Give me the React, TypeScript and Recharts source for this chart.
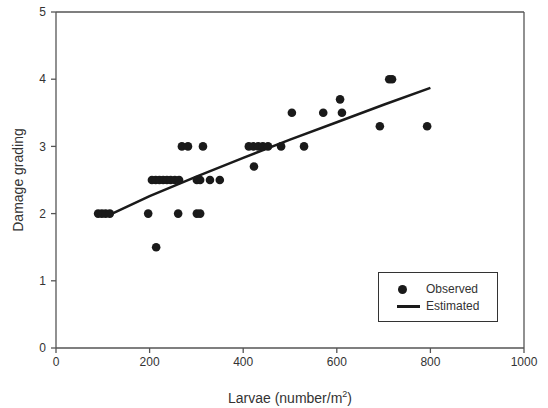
import React from 'react';
import { ScatterChart, Scatter, XAxis, YAxis, ReferenceLine, Label } from 'recharts';

// Observed points
const obsLarvae = [
  90, 98, 106, 115, 197, 261, 301, 308,
  214,
  205, 213, 221, 229, 237, 245, 254, 263, 301, 308, 329, 350,
  423,
  269, 282, 314, 412, 422, 432, 442, 453, 481, 530,
  504, 571, 611,
  607,
  692, 793,
  712, 718,
];
const obsDamage = [
  2, 2, 2, 2, 2, 2, 2, 2,
  1.5,
  2.5, 2.5, 2.5, 2.5, 2.5, 2.5, 2.5, 2.5, 2.5, 2.5, 2.5, 2.5,
  2.7,
  3, 3, 3, 3, 3, 3, 3, 3, 3, 3,
  3.5, 3.5, 3.5,
  3.7,
  3.3, 3.3,
  4, 4,
];

// Estimated curve
const estLarvae = [120, 200, 300, 400, 500, 600, 700, 800];
const estDamage = [2.0, 2.26, 2.55, 2.83, 3.1, 3.36, 3.62, 3.87];

const xTicks = [0, 200, 400, 600, 800, 1000];
const yTicks = [0, 1, 2, 3, 4, 5];

const observed = obsLarvae.map((x, i) => ({ x, y: obsDamage[i] }));
const estimated = estLarvae.map((x, i) => ({ x, y: estDamage[i] }));

const FONT = '"Liberation Sans", Arial, sans-serif';
const AXIS = '#555';
const TEXT = '#333';

const App = () => {
  return (
    <div style={{ position: 'absolute', left: 0, top: 0, width: 548, height: 408, background: '#fff', fontFamily: FONT }}>
      <ScatterChart width={548} height={408} margin={{ top: 12, right: 24, bottom: 0, left: 0 }}>
        <XAxis
          type="number"
          dataKey="x"
          domain={[0, 1000]}
          ticks={xTicks}
          height={60}
          stroke={AXIS}
          strokeWidth={1.3}
          tickSize={5}
          tickMargin={4}
          tick={{ fontSize: 12, fill: TEXT, fontFamily: FONT }}
        >
          <Label
            content={() => (
              <text x={290} y={403} textAnchor="middle" fontSize={14} fill={TEXT} fontFamily={FONT}>
                Larvae (number/m<tspan dy={-6} fontSize={9}>2</tspan>
                <tspan dy={6}>)</tspan>
              </text>
            )}
          />
        </XAxis>
        <YAxis
          type="number"
          dataKey="y"
          domain={[0, 5]}
          ticks={yTicks}
          width={56}
          stroke={AXIS}
          strokeWidth={1.3}
          tickSize={5}
          tickMargin={5}
          tick={{ fontSize: 12, fill: TEXT, fontFamily: FONT }}
        >
          <Label
            content={() => (
              <text
                x={18}
                y={180}
                transform="rotate(-90 18 180)"
                textAnchor="middle"
                dominantBaseline="central"
                fontSize={14}
                fill={TEXT}
                fontFamily={FONT}
              >
                Damage grading
              </text>
            )}
          />
        </YAxis>
        {/* box top and right */}
        <ReferenceLine y={5} stroke={AXIS} strokeWidth={1.3} />
        <ReferenceLine x={1000} stroke={AXIS} strokeWidth={1.3} />
        <Scatter
          data={estimated}
          line={{ stroke: '#1a1a1a', strokeWidth: 2.5 }}
          shape={() => <g />}
          isAnimationActive={false}
        />
        <Scatter
          data={observed}
          fill="#1a1a1a"
          shape={(p: any) => <circle cx={p.cx} cy={p.cy} r={4.3} fill="#1a1a1a" />}
          isAnimationActive={false}
        />
      </ScatterChart>

      {/* Legend */}
      <div
        style={{
          position: 'absolute',
          left: 378,
          top: 272,
          width: 120,
          height: 50,
          border: `1px solid ${TEXT}`,
          boxSizing: 'border-box',
          fontSize: 12,
          color: TEXT,
        }}
      >
        <div style={{ position: 'absolute', left: 19, top: 12, width: 9, height: 9, borderRadius: '50%', background: '#1a1a1a' }} />
        <div style={{ position: 'absolute', left: 18, top: 32, width: 23, height: 2.5, background: '#1a1a1a' }} />
        <div style={{ position: 'absolute', left: 47, top: 8, lineHeight: '16px' }}>Observed</div>
        <div style={{ position: 'absolute', left: 47, top: 25, lineHeight: '16px' }}>Estimated</div>
      </div>
    </div>
  );
};

export default App;
